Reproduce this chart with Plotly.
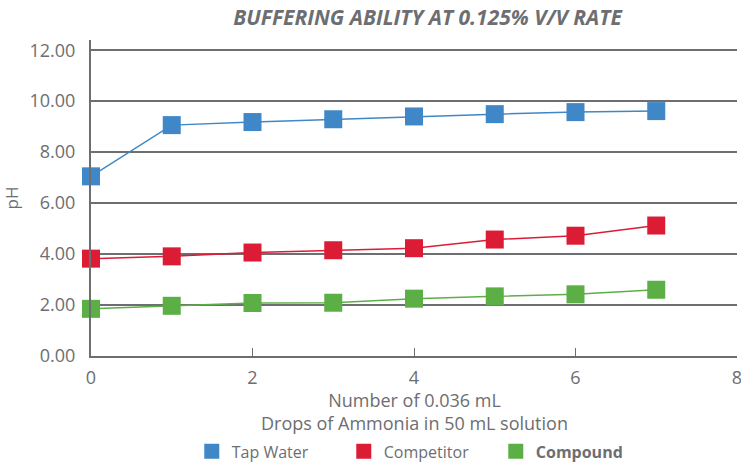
import plotly.graph_objects as go

drops = [0, 1, 2, 3, 4, 5, 6, 7]
tap_water = [7.05, 9.06, 9.18, 9.29, 9.40, 9.49, 9.57, 9.61]
competitor = [3.82, 3.91, 4.06, 4.15, 4.23, 4.57, 4.72, 5.12]
compound = [1.85, 1.97, 2.08, 2.09, 2.25, 2.34, 2.42, 2.60]

series_names = ["Tap Water", "Competitor", "<b>Compound</b>"]
series_values = [tap_water, competitor, compound]
colors = ["#3F87C6", "#DC1C35", "#5BAF45"]

y_ticks = [0, 2, 4, 6, 8, 10, 12]
y_tick_labels = ["0.00", "2.00", "4.00", "6.00", "8.00", "10.00", "12.00"]

chart_title = "BUFFERING ABILITY AT 0.125% V/V RATE"
x_title = "Number of 0.036 mL<br>Drops of Ammonia in 50 mL solution"
y_title = "pH"

gray = "#6D6E71"
font_family = "Open Sans, DejaVu Sans, sans-serif"

fig = go.Figure()
for name, vals, c in zip(series_names, series_values, colors):
    fig.add_trace(go.Scatter(
        x=drops, y=vals, mode="lines+markers", name=name, showlegend=False,
        line=dict(color=c, width=1.5), cliponaxis=False,
        marker=dict(symbol="square", size=18, color=c),
    ))
for name, c in zip(series_names, colors):
    fig.add_trace(go.Scatter(
        x=[None], y=[None], mode="markers", name=name,
        marker=dict(symbol="square", size=15, color=c),
    ))

fig.update_layout(
    width=741, height=464,
    paper_bgcolor="white", plot_bgcolor="white",
    margin=dict(l=91, r=4, t=40, b=108, autoexpand=False),
    font=dict(family=font_family, color=gray, size=17),
    title=dict(
        text=chart_title,
        x=0.577, xanchor="center", y=0.963, yanchor="middle",
        font=dict(size=21, color=gray, weight="bold", style="italic", family=font_family),
    ),
    legend=dict(
        orientation="h", x=0.156, xanchor="left", y=-0.302, yanchor="middle",
        font=dict(size=16, color=gray), itemwidth=30, entrywidth=107,
        tracegroupgap=0,
    ),
    showlegend=True,
    annotations=[dict(
        text=x_title, xref="paper", yref="paper", x=0.5, y=-0.176,
        xanchor="center", yanchor="middle", showarrow=False,
        font=dict(size=18, color=gray),
    )],
)
fig.update_xaxes(
    range=[0, 8], dtick=2, tick0=0, showgrid=False, zeroline=False,
    showline=True, linecolor=gray, linewidth=2, automargin=False,
    ticks="inside", ticklen=8, tickwidth=1, tickcolor=gray,
    ticklabelstandoff=4, ticklabeloverflow="allow",
    tickfont=dict(size=18, color=gray),
)
fig.update_yaxes(
    range=[0, 12.4], tickvals=y_ticks, ticktext=y_tick_labels,
    showgrid=True, gridcolor=gray, gridwidth=2, zeroline=False,
    showline=True, linecolor=gray, linewidth=2, ticks="", automargin=False,
    ticklabelstandoff=10,
    tickfont=dict(size=18, color=gray),
    title=dict(text=y_title, font=dict(size=17, color=gray), standoff=8),
)

fig.write_html("out.html", config={"displayModeBar": False},
               post_script="document.body.style.margin='0';")
